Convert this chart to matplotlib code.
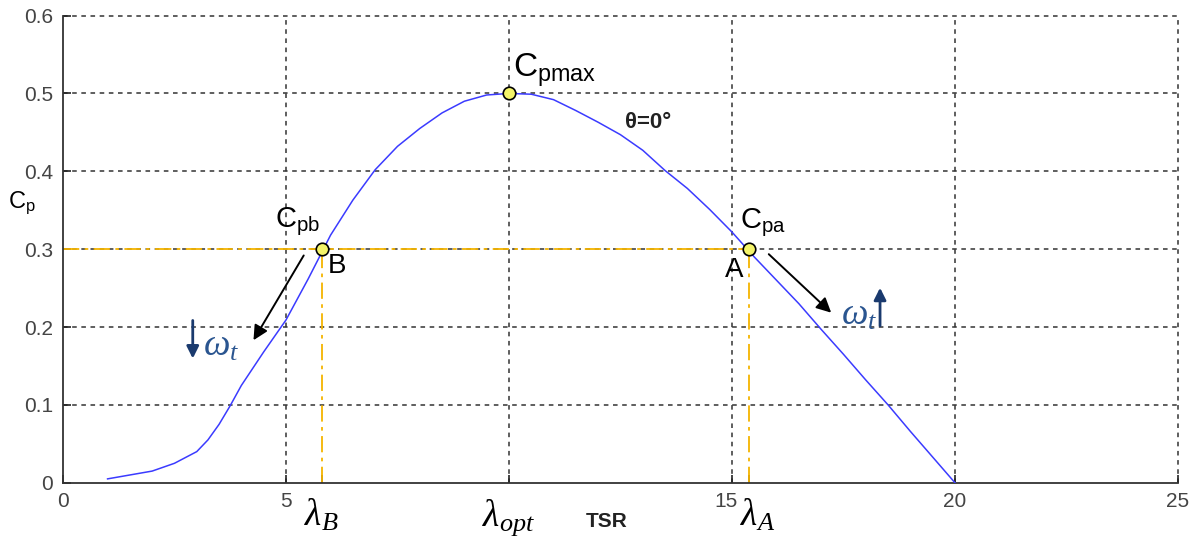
import matplotlib
matplotlib.use('Agg')
import matplotlib.pyplot as plt
import matplotlib.transforms as mtransforms

plt.rcParams['font.family'] = ['Liberation Sans', 'DejaVu Sans']
plt.rcParams['mathtext.fontset'] = 'custom'
plt.rcParams['mathtext.rm'] = 'Liberation Sans'
plt.rcParams['mathtext.it'] = 'Liberation Serif:italic'
plt.rcParams['mathtext.bf'] = 'Liberation Sans:bold'

# power coefficient curve at zero pitch
tsr = [1, 2, 2.5, 3, 3.25, 3.5, 3.75, 4, 4.5, 5, 5.5, 6, 6.5, 7, 7.5, 8, 8.5,
       9, 9.5, 10, 10.5, 11, 11.5, 12, 12.5, 13, 13.5, 14, 14.5, 15, 15.5, 16,
       16.5, 17, 17.5, 18, 18.5, 19, 19.5, 20]
cp = [0.005, 0.015, 0.025, 0.04, 0.055, 0.075, 0.099, 0.125, 0.168, 0.209,
      0.262, 0.318, 0.363, 0.402, 0.432, 0.455, 0.475, 0.49, 0.498, 0.5,
      0.499, 0.492, 0.478, 0.463, 0.447, 0.427, 0.401, 0.378, 0.351, 0.322,
      0.29, 0.26, 0.23, 0.197, 0.165, 0.132, 0.1, 0.066, 0.033, 0.0]

# operating points
lam_b, lam_opt, lam_a = 5.8, 10.0, 15.38
cp_b, cp_max, cp_a = 0.3, 0.5, 0.3

x_ticks = [0, 5, lam_b, lam_opt, 15, lam_a, 20, 25]
x_tick_labels = ['0', '5', '', '', '15', '', '20', '25']
y_ticks = [0, 0.1, 0.2, 0.3, 0.4, 0.5, 0.6]
y_tick_labels = ['0', '0.1', '0.2', '0.3', '0.4', '0.5', '0.6']

fig = plt.figure(figsize=(11.97, 5.37), dpi=100)
ax = fig.add_axes([0.0526, 0.101, 0.9315, 0.870])

gold = '#f5b400'
grid_kw = dict(color='#333333', linestyle=(0, (3, 3)), linewidth=1.1, zorder=1, clip_on=False)

# grid lines
for gx in [5, 10, 15, 20, 25]:
    ax.axvline(gx, **grid_kw)
for gy in [0.1, 0.2, 0.3, 0.4, 0.5, 0.6]:
    ax.axhline(gy, **grid_kw)

# projection lines to the axes
dashdot = (0, (9, 3, 2, 3))
ax.plot([0, lam_a], [cp_a, cp_a], color=gold, linestyle=dashdot, linewidth=1.3, zorder=2)
ax.plot([lam_b, lam_b], [0, cp_b], color=gold, linestyle=dashdot, linewidth=1.3, zorder=2)
ax.plot([lam_a, lam_a], [0, cp_a], color=gold, linestyle=dashdot, linewidth=1.3, zorder=2)

ax.plot(tsr, cp, color='#3b3bff', linewidth=1.1, zorder=3)

ax.plot([lam_b, lam_opt, lam_a], [cp_b, cp_max, cp_a], 'o', markersize=9,
        markerfacecolor='#f4f46a', markeredgecolor='black', markeredgewidth=1.2, zorder=5)

ax.set_xlim(0, 25)
ax.set_ylim(0, 0.6)
ax.set_xticks(x_ticks)
ax.set_xticklabels(x_tick_labels)
ax.set_yticks(y_ticks)
ax.set_yticklabels(y_tick_labels)
ax.tick_params(direction='in', length=6, width=1.2, colors='#222222', labelsize=15,
               labelcolor='#444444', pad=7)
for side in ['top', 'right']:
    ax.spines[side].set_visible(False)
for side in ['left', 'bottom']:
    ax.spines[side].set_color('#333333')
    ax.spines[side].set_linewidth(1.3)

# nudge the "15" label so it clears lambda_A
lbl15 = ax.get_xticklabels()[4]
lbl15.set_transform(lbl15.get_transform() + mtransforms.ScaledTranslation(-4 / 72, 0, fig.dpi_scale_trans))

# point labels
ax.text(10.1, 0.521, r'$\mathrm{C_{pmax}}$', fontsize=24, va='baseline')
ax.text(4.75, 0.328, r'$\mathrm{C_{pb}}$', fontsize=21, va='baseline')
ax.text(15.18, 0.327, r'$\mathrm{C_{pa}}$', fontsize=21, va='baseline')
ax.text(5.94, 0.27, 'B', fontsize=20, va='baseline')
ax.text(14.84, 0.264, 'A', fontsize=20, va='baseline')
ax.text(12.6, 0.456, 'θ=0°', fontsize=16, va='baseline', fontweight='bold', color='#222222')

# direction arrows
ax.annotate('', xy=(4.24, 0.18), xytext=(5.43, 0.295),
            arrowprops=dict(arrowstyle='-|>', color='black', lw=1.4, mutation_scale=22))
ax.annotate('', xy=(17.27, 0.216), xytext=(15.78, 0.296),
            arrowprops=dict(arrowstyle='-|>', color='black', lw=1.4, mutation_scale=22))

navy = '#1a3a6e'
ax.annotate('', xy=(2.91, 0.156), xytext=(2.91, 0.212),
            arrowprops=dict(arrowstyle='-|>', color=navy, lw=2, mutation_scale=18))
ax.annotate('', xy=(18.32, 0.254), xytext=(18.32, 0.198),
            arrowprops=dict(arrowstyle='-|>', color=navy, lw=2, mutation_scale=18))
ax.text(3.15, 0.163, r'$\omega_t$', fontsize=27, color='#2a5590', va='baseline')
ax.text(17.45, 0.203, r'$\omega_t$', fontsize=27, color='#2a5590', va='baseline')

# tip speed ratio labels under the axis
trans = mtransforms.blended_transform_factory(ax.transData, ax.transAxes)
lam_y = -0.091
ax.text(lam_b, lam_y, r'$\lambda_B$', transform=trans, fontsize=27, ha='center', va='baseline')
ax.text(lam_opt, lam_y, r'$\lambda_{opt}$', transform=trans, fontsize=27, ha='center', va='baseline')
ax.text(lam_a + 0.2, lam_y, r'$\lambda_A$', transform=trans, fontsize=27, ha='center', va='baseline')
ax.text(12.2, -0.095, 'TSR', transform=trans, fontsize=15, ha='center', va='baseline',
        fontweight='bold', color='#222222')

fig.text(22 / 1197, 1 - 203 / 537, r'$\mathrm{C_p}$', fontsize=17, ha='center', va='center')

fig.savefig('out.png', dpi=100)
